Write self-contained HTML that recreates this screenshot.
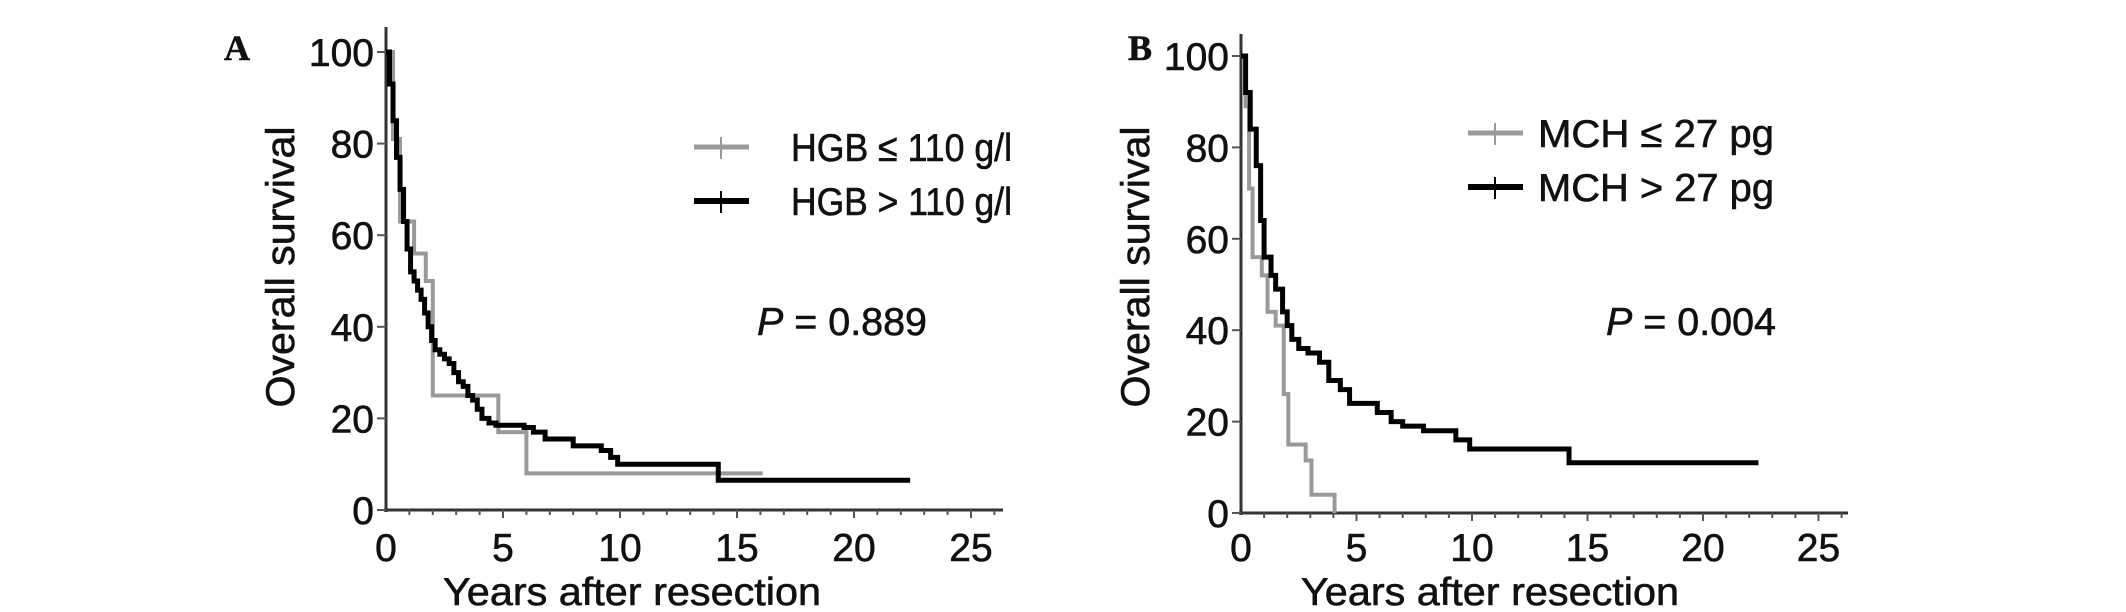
<!DOCTYPE html>
<html><head><meta charset="utf-8">
<style>
html,body{margin:0;padding:0;background:#fff;}
svg{display:block;}
text{font-family:"Liberation Sans",Arial,sans-serif;fill:#111;stroke:#111;stroke-width:0.6px;}
</style></head>
<body>
<svg id="chart" width="2126" height="612" viewBox="0 0 2126 612" xmlns="http://www.w3.org/2000/svg"></svg>
<script>
// Panel A data (years, survival %)
var hgbLowTimes = [0, 0.3, 0.6, 1.2, 1.7, 2.0, 4.8, 6.0, 16.1];
var hgbLowVals  = [100, 81, 63, 56, 50, 25, 17, 8, 8];
var hgbHighTimes = [0,0.15,0.3,0.45,0.6,0.75,0.9,1.05,1.2,1.35,1.5,1.65,1.8,1.95,2.1,2.3,2.5,2.7,2.9,3.1,3.3,3.5,3.7,3.9,4.1,4.4,4.7,5.9,6.3,6.8,8.0,9.2,9.6,9.9,14.2,22.4];
var hgbHighVals  = [100,93,85,77,70,63,57,52,50,48,46,43,40,37,35,34,33,32,30,28,27,25,24,22,20,19,18.5,18,17,15.5,14,13,11.5,10,6.5,6.5];
// Panel B data
var mchLowTimes = [0,0.2,0.35,0.5,0.9,1.15,1.5,1.85,2.05,2.8,3.05,4.05];
var mchLowVals  = [100,89,71,56,52,44,41,26,15,11.5,4,0];
var mchHighTimes = [0,0.2,0.4,0.66,0.85,1.0,1.3,1.5,1.8,2.0,2.2,2.5,2.9,3.4,3.8,4.3,4.7,5.9,6.5,7.0,7.9,9.3,9.9,14.2,22.4];
var mchHighVals  = [100,92,84,76,64,56,52,49,44,41,38,36,35,33,29,27,24,22,20,19,18,16,14,11,11];
var xTicks = [0,5,10,15,20,25];
var yTicks = [0,20,40,60,80,100];

var NS = "http://www.w3.org/2000/svg";
var svg = document.getElementById('chart');
function mk(tag, attrs, parent){
  var e = document.createElementNS(NS, tag);
  for (var k in attrs) e.setAttribute(k, attrs[k]);
  (parent||svg).appendChild(e);
  return e;
}
function txt(parent, s, attrs){
  var t = mk('text', attrs, parent);
  t.textContent = s;
  return t;
}

function panel(cfg){
  var g = mk('g', {});
  
  
  var x = function(v){ return cfg.x0 + v * cfg.pxYear; };
  var y = function(v){ return cfg.y0 - v * (cfg.y0 - cfg.y100) / 100; };

  var lab = txt(g, cfg.letter, {x: cfg.letterX, y: 60, 'font-size': 36, 'font-weight': 'bold', style: 'font-family:"Liberation Serif",serif'});
  
  

  var ya = mk('line', {x1: cfg.x0, y1: cfg.axisTop, x2: cfg.x0, y2: cfg.y0 + 2, stroke: '#333', 'stroke-width': 3}, g);
  
  
  var xa = mk('line', {x1: cfg.x0 - 2, y1: cfg.y0, x2: cfg.axisRight, y2: cfg.y0, stroke: '#333', 'stroke-width': 3}, g);
  
  

  for (var i = 1; i <= 26; i++) {
    var major = (i % 5 === 0);
    mk('line', {x1: x(i), y1: cfg.y0, x2: x(i), y2: cfg.y0 + (major ? 8 : 5), stroke: '#555', 'stroke-width': 2}, g);
  }
  xTicks.forEach(function(v){
    var t = txt(g, String(v), {x: x(v), y: 561, 'font-size': 39, 'text-anchor': 'middle'});
    
    
  });
  yTicks.forEach(function(v){
    mk('line', {x1: cfg.x0 - 9, y1: y(v), x2: cfg.x0, y2: y(v), stroke: '#555', 'stroke-width': 2}, g);
    var t = txt(g, String(v), {x: cfg.x0 - 12, y: y(v) + 14, 'font-size': 39, 'text-anchor': 'end'});
    
    
  });

  var xt = txt(g, 'Years after resection', {x: cfg.xTitleX, y: 605, 'font-size': 39, 'text-anchor': 'middle', textLength: 378, lengthAdjust: 'spacingAndGlyphs'});
  
  
  var yt = txt(g, 'Overall survival', {x: 0, y: 0, 'font-size': 40, 'text-anchor': 'middle', textLength: 281, lengthAdjust: 'spacingAndGlyphs', transform: 'translate(' + (cfg.yTitleX + 14) + ',267) rotate(-90)'});
  
  

  function step(times, vals, color, w, nm){
    var d = 'M' + x(times[0]) + ',' + y(vals[0]);
    for (var j = 1; j < times.length; j++) {
      d += ' H' + x(times[j]) + ' V' + y(vals[j]);
    }
    var p = mk('path', {d: d, fill: 'none', stroke: color, 'stroke-width': w, 'stroke-linejoin': 'miter'}, g);
    
    
  }
  step(cfg.lowT, cfg.lowV, '#999', 4, 'curve-low');
  step(cfg.highT, cfg.highV, '#000', 5, 'curve-high');

  [[cfg.legY1, '#999', cfg.leg1, 4], [cfg.legY2, '#000', cfg.leg2, 5]].forEach(function(L, k){
    var lg = mk('g', {}, g);
    
    
    mk('line', {x1: cfg.legX, y1: L[0], x2: cfg.legX + 55, y2: L[0], stroke: L[1], 'stroke-width': L[3] + 1}, lg);
    mk('line', {x1: cfg.legX + 27, y1: L[0] - 10, x2: cfg.legX + 27, y2: L[0] + 12, stroke: L[1], 'stroke-width': 2}, lg);
    txt(lg, L[2], {x: cfg.legTextX, y: L[0] + 14, 'font-size': 39, textLength: cfg.legW, lengthAdjust: 'spacingAndGlyphs'});
  });

  var pv = mk('text', {x: cfg.pX, y: 335, 'font-size': 39, textLength: 170, lengthAdjust: 'spacingAndGlyphs'}, g);
  
  
  var ip = document.createElementNS(NS, 'tspan');
  ip.setAttribute('font-style', 'italic');
  ip.textContent = 'P';
  pv.appendChild(ip);
  pv.appendChild(document.createTextNode(' = ' + cfg.p));
}

panel({name: 'panel-a-hgb', letter: 'A', letterX: 224, x0: 386, pxYear: 23.4, y0: 510, y100: 52, axisTop: 27, axisRight: 1003,
  xTitleX: 632, yTitleX: 280, lowT: hgbLowTimes, lowV: hgbLowVals, highT: hgbHighTimes, highV: hgbHighVals,
  legX: 694, legY1: 147, legY2: 201, legTextX: 791, legW: 221, leg1: 'HGB ≤ 110 g/l', leg2: 'HGB > 110 g/l', pX: 757, p: '0.889'});
panel({name: 'panel-b-mch', letter: 'B', letterX: 1128, x0: 1241, pxYear: 23.1, y0: 513, y100: 56, axisTop: 34, axisRight: 1848,
  xTitleX: 1490, yTitleX: 1135, lowT: mchLowTimes, lowV: mchLowVals, highT: mchHighTimes, highV: mchHighVals,
  legX: 1468, legY1: 133, legY2: 187, legTextX: 1538, legW: 236, leg1: 'MCH ≤ 27 pg', leg2: 'MCH > 27 pg', pX: 1606, p: '0.004'});
</script>
</body></html>
